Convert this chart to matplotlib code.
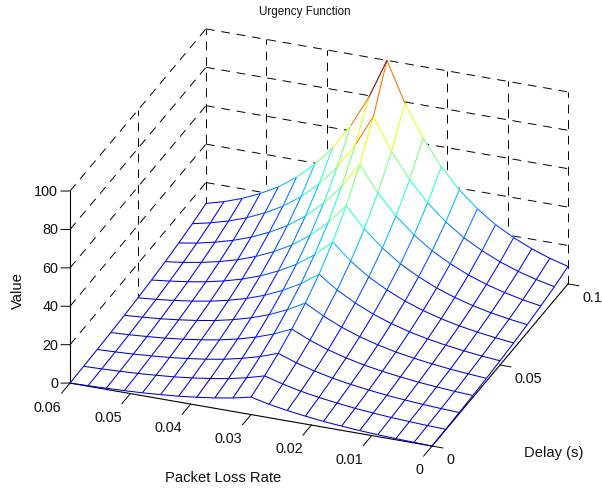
import matplotlib
matplotlib.use("Agg")
import matplotlib.pyplot as plt
import numpy as np
from mpl_toolkits.mplot3d import proj3d
from mpl_toolkits.mplot3d.art3d import Line3DCollection

plt.rcParams["font.family"] = ["Liberation Sans", "DejaVu Sans"]

delay = [0.0, 0.01, 0.02, 0.03, 0.04, 0.05, 0.06, 0.07, 0.08, 0.09, 0.1]
loss = [0.0, 0.003, 0.006, 0.009, 0.012, 0.015, 0.018, 0.021, 0.024, 0.027, 0.03,
        0.033, 0.036, 0.039, 0.042, 0.045, 0.048, 0.051, 0.054, 0.057, 0.06]

# one row of the mesh per delay value, left to right in packet loss
value_d00 = [0, .3, .6, 1, 1.5, 2.2, 3, 4.1, 5.4, 7, 9.1, 7, 5.4, 4.1, 3, 2.2, 1.5, 1, .6, .3, 0]
value_d01 = [.3, .6, 1, 1.5, 2.2, 3, 4.1, 5.4, 7, 9.1, 11.7, 9.1, 7, 5.4, 4.1, 3, 2.2, 1.5, 1, .6, .3]
value_d02 = [.6, 1, 1.5, 2.2, 3, 4.1, 5.4, 7, 9.1, 11.7, 15, 11.7, 9.1, 7, 5.4, 4.1, 3, 2.2, 1.5, 1, .6]
value_d03 = [1, 1.5, 2.2, 3, 4.1, 5.4, 7, 9.1, 11.7, 15, 19.2, 15, 11.7, 9.1, 7, 5.4, 4.1, 3, 2.2, 1.5, 1]
value_d04 = [1.5, 2.2, 3, 4.1, 5.4, 7, 9.1, 11.7, 15, 19.2, 24.3, 19.2, 15, 11.7, 9.1, 7, 5.4, 4.1, 3, 2.2, 1.5]
value_d05 = [2.2, 3, 4.1, 5.4, 7, 9.1, 11.7, 15, 19.2, 24.3, 30.9, 24.3, 19.2, 15, 11.7, 9.1, 7, 5.4, 4.1, 3, 2.2]
value_d06 = [3, 4.1, 5.4, 7, 9.1, 11.7, 15, 19.2, 24.3, 30.9, 39.2, 30.9, 24.3, 19.2, 15, 11.7, 9.1, 7, 5.4, 4.1, 3]
value_d07 = [4.1, 5.4, 7, 9.1, 11.7, 15, 19.2, 24.3, 30.9, 39.2, 49.6, 39.2, 30.9, 24.3, 19.2, 15, 11.7, 9.1, 7, 5.4, 4.1]
value_d08 = [5.4, 7, 9.1, 11.7, 15, 19.2, 24.3, 30.9, 39.2, 49.6, 62.7, 49.6, 39.2, 30.9, 24.3, 19.2, 15, 11.7, 9.1, 7, 5.4]
value_d09 = [7, 9.1, 11.7, 15, 19.2, 24.3, 30.9, 39.2, 49.6, 62.7, 79.2, 62.7, 49.6, 39.2, 30.9, 24.3, 19.2, 15, 11.7, 9.1, 7]
value_d10 = [9.1, 11.7, 15, 19.2, 24.3, 30.9, 39.2, 49.6, 62.7, 79.2, 100, 79.2, 62.7, 49.6, 39.2, 30.9, 24.3, 19.2, 15, 11.7, 9.1]

loss_ticks = [0, 0.01, 0.02, 0.03, 0.04, 0.05, 0.06]
loss_labels = ["0", "0.01", "0.02", "0.03", "0.04", "0.05", "0.06"]
delay_ticks = [0, 0.05, 0.1]
delay_labels = ["0", "0.05", "0.1"]
value_ticks = [0, 20, 40, 60, 80, 100]
value_labels = ["0", "20", "40", "60", "80", "100"]

W, H = 602, 488
fig = plt.figure(figsize=(W / 100, H / 100), dpi=100)
ax = fig.add_axes([0, 0, 1, 1], projection="3d", proj_type="ortho", computed_zorder=False)
ax.view_init(elev=27.1, azim=-159.1)
ax.set_box_aspect((381, 387.5, 215.7))
ax.set_axis_off()

Z = np.array([value_d00, value_d01, value_d02, value_d03, value_d04, value_d05,
              value_d06, value_d07, value_d08, value_d09, value_d10])
D, L = np.meshgrid(delay, loss, indexing="ij")
xmax, ymax, zmax = delay[-1], loss[-1], value_ticks[-1]

grid_style = dict(color="black", lw=0.7, dashes=(9, 7), zorder=1, clip_on=False)
for z in value_ticks[1:]:
    ax.plot([0, xmax], [ymax, ymax], [z, z], **grid_style)
    ax.plot([xmax, xmax], [ymax, 0], [z, z], **grid_style)
for d in delay_ticks[1:]:
    ax.plot([d, d], [ymax, ymax], [0, zmax], **grid_style)
for l in loss_ticks[:-1]:
    ax.plot([xmax, xmax], [l, l], [0, zmax], **grid_style)

# white surface hides the grid, mesh lines go on top of it
ax.plot_surface(D, L, Z, color="white", shade=False, rstride=1, cstride=1,
                linewidth=0.3, edgecolor="white", zorder=2)

axis_style = dict(color="black", lw=0.8, zorder=3, clip_on=False)
ax.plot([0, 0], [ymax, 0], [0, 0], **axis_style)
ax.plot([0, xmax], [0, 0], [0, 0], **axis_style)
ax.plot([0, 0], [ymax, ymax], [0, zmax], **axis_style)

tick_style = dict(color="black", lw=0.7, zorder=3, clip_on=False)
label_style = dict(fontsize=10.4, color="#111111", zorder=6)
for l, s in zip(loss_ticks, loss_labels):
    ax.plot([0, -0.0062], [l, l], [0, 0], **tick_style)
    ax.text(-0.0129, l - 0.0015, -1, s, ha="right", va="center", **label_style)
for d, s in zip(delay_ticks, delay_labels):
    ax.plot([d, d], [0, -0.0018], [0, 0], **tick_style)
    ax.text(d - 0.0051, -0.00355, -1, s, ha="left", va="center", **label_style)
for z, s in zip(value_ticks, value_labels):
    ax.plot([0, -0.00084], [ymax, ymax + 0.0013], [z, z], **tick_style)
    ax.text(-0.001125, ymax + 0.00173, z - 0.5, s, ha="right", va="center", **label_style)

# mesh edges take the colour of their lower index vertex, like matlab's mesh
segs, vals = [], []
for r in range(len(delay)):
    for c in range(len(loss)):
        p = (D[r, c], L[r, c], Z[r, c])
        if c + 1 < len(loss):
            segs.append([p, (D[r, c + 1], L[r, c + 1], Z[r, c + 1])])
            vals.append(Z[r, c])
        if r + 1 < len(delay):
            segs.append([p, (D[r + 1, c], L[r + 1, c], Z[r + 1, c])])
            vals.append(Z[r, c])
jet = plt.get_cmap("jet")
# low end of the reference's colormap is a brighter blue than navy
mesh = Line3DCollection(segs, colors=jet(np.maximum(np.array(vals) / zmax, 0.075)), linewidths=0.75, zorder=5)
ax.add_collection3d(mesh)

ax.set_xlim(0, xmax, view_margin=0)
ax.set_ylim(0, ymax, view_margin=0)
ax.set_zlim(0, zmax, view_margin=0)


def to_px(x, y, z):
    xs, ys, _ = proj3d.proj_transform(x, y, z, ax.get_proj())
    return ax.transData.transform((xs, ys))


def place_axes(cx, cy, side):
    ax.set_position([(cx - side / 2) / W, (cy - side / 2) / H, side / W, side / H])
    ax.apply_aspect()


# fit the box onto the corners seen in the reference: (0, .06, 0) and (.1, 0, 0)
target_a = np.array([70.0, H - 383.0])
target_c = np.array([568.0, H - 284.0])
side, center = 400.0, np.array([W / 2, H / 2])
place_axes(center[0], center[1], side)
a, c = to_px(0, ymax, 0), to_px(xmax, 0, 0)
side *= np.linalg.norm(target_c - target_a) / np.linalg.norm(c - a)
place_axes(center[0], center[1], side)
a, c = to_px(0, ymax, 0), to_px(xmax, 0, 0)
center = center + (target_a + target_c) / 2 - (a + c) / 2
place_axes(center[0], center[1], side)

fig.text(305 / W, 1 - 12 / H, "Urgency Function", fontsize=8.4, ha="center", va="center", color="#111111")
fig.text(223.5 / W, 1 - 478 / H, "Packet Loss Rate", fontsize=10.6, ha="center", va="center", color="#111111")
fig.text(553.5 / W, 1 - 453 / H, "Delay (s)", fontsize=10.6, ha="center", va="center", color="#111111")
fig.text(17.5 / W, 1 - 291 / H, "Value", fontsize=10.6, rotation=90, ha="center", va="center", color="#111111")

fig.savefig("out.png", dpi=100)
